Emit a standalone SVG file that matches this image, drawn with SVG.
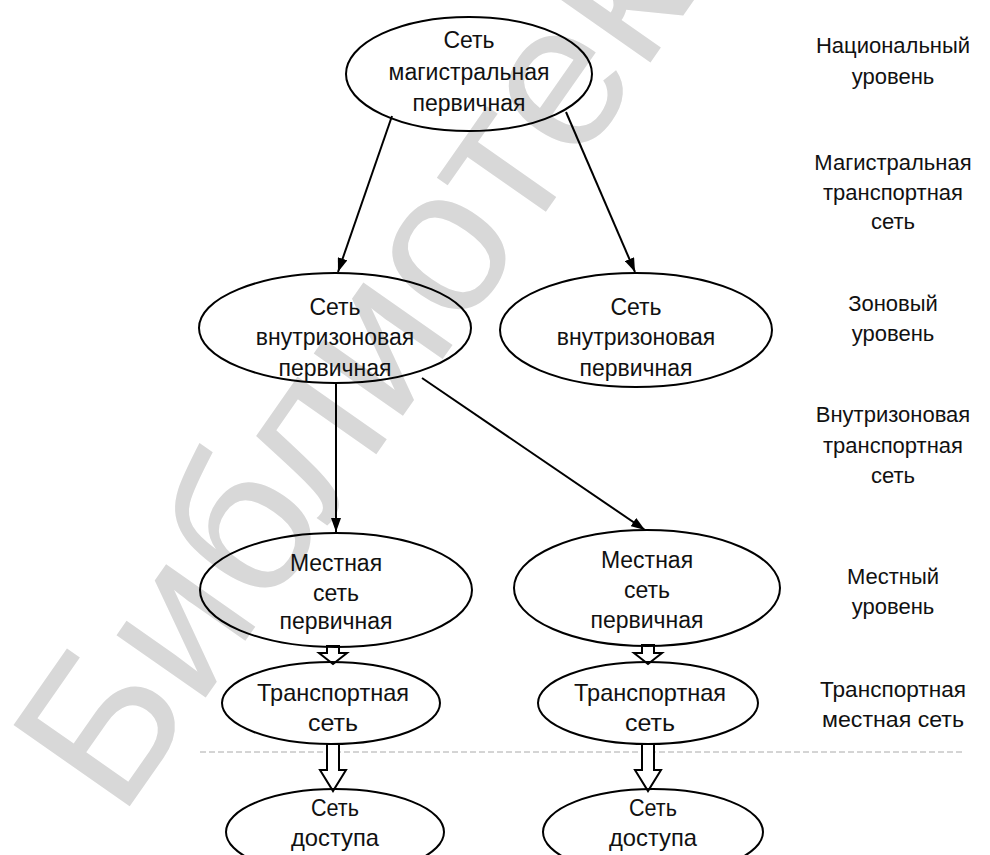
<svg xmlns="http://www.w3.org/2000/svg" width="990" height="855" viewBox="0 0 990 855">
  <defs>
    <marker id="arrow" viewBox="0 0 14 10" refX="14" refY="5" markerWidth="14" markerHeight="10" markerUnits="userSpaceOnUse" orient="auto">
      <path d="M0,0 L14,5 L0,10 Z" fill="#000"/>
    </marker>
    <style>
      .node ellipse { fill: none; stroke: #000; stroke-width: 2; }
      .txt { font-family: "Liberation Sans", Arial, sans-serif; font-size: 23px; fill: #111; text-anchor: middle; }
      .tall { font-size: 24px; }
      .link { stroke: #000; stroke-width: 2; fill: none; marker-end: url(#arrow); }
      .hollow { fill: #fff; stroke: #000; stroke-width: 2; stroke-linejoin: miter; }
      .level { font-family: "Liberation Sans", Arial, sans-serif; font-size: 22px; fill: #111; text-anchor: middle; }
      .wm { font-family: "Liberation Sans", Arial, sans-serif; font-size: 206px; fill: #d8d8d8; }
    </style>
  </defs>

  <rect width="990" height="855" fill="#fff"/>

  <!-- library stamp across the page -->
  <text class="wm" transform="translate(120,820) rotate(-55)">Библиотека</text>

  <!-- separator between transport and access segments -->
  <line x1="200" y1="752" x2="963" y2="752" stroke="#aaa" stroke-width="1" stroke-dasharray="6 3"/>

  <g id="connectors">
    <line class="link" x1="392" y1="116" x2="338" y2="272"/>
    <line class="link" x1="566" y1="112" x2="635" y2="272"/>
    <line class="link" x1="336" y1="383" x2="336" y2="532"/>
    <line class="link" x1="422" y1="378" x2="645" y2="530"/>
    <!-- block arrows -->
    <path class="hollow" d="M327,646 L339,646 L339,653 L347,653 L333,664 L319,653 L327,653 Z"/>
    <path class="hollow" d="M642,645 L654,645 L654,653 L662,653 L648,664 L634,653 L642,653 Z"/>
    <path class="hollow" d="M327,744 L339,744 L339,770 L346,770 L333,791 L320,770 L327,770 Z"/>
    <path class="hollow" d="M642,744 L654,744 L654,770 L661,770 L648,791 L635,770 L642,770 Z"/>
  </g>

  <g id="national" class="node">
    <ellipse cx="469" cy="74" rx="123" ry="57"/>
    <text class="txt" x="469" y="48">Сеть</text>
    <text class="txt" x="469" y="80">магистральная</text>
    <text class="txt" x="469" y="111">первичная</text>
  </g>

  <g id="zone-left" class="node">
    <ellipse cx="335" cy="328" rx="136" ry="55"/>
    <text class="txt" x="335" y="315">Сеть</text>
    <text class="txt" x="335" y="345">внутризоновая</text>
    <text class="txt" x="335" y="376">первичная</text>
  </g>

  <g id="zone-right" class="node">
    <ellipse cx="636" cy="330" rx="136" ry="57"/>
    <text class="txt" x="636" y="315">Сеть</text>
    <text class="txt" x="636" y="345">внутризоновая</text>
    <text class="txt" x="636" y="376">первичная</text>
  </g>

  <g id="local-left" class="node">
    <ellipse cx="336" cy="590" rx="136" ry="57"/>
    <text class="txt" x="336" y="571">Местная</text>
    <text class="txt" x="336" y="601">сеть</text>
    <text class="txt" x="336" y="629">первичная</text>
  </g>

  <g id="local-right" class="node">
    <ellipse cx="647" cy="588" rx="133" ry="58"/>
    <text class="txt" x="647" y="568">Местная</text>
    <text class="txt" x="647" y="598">сеть</text>
    <text class="txt" x="647" y="628">первичная</text>
  </g>

  <g id="transport-left" class="node">
    <ellipse cx="331" cy="703" rx="109" ry="41"/>
    <text class="txt tall" x="333" y="701" textLength="152" lengthAdjust="spacingAndGlyphs">Транспортная</text>
    <text class="txt tall" x="333" y="731" textLength="50" lengthAdjust="spacingAndGlyphs">сеть</text>
  </g>

  <g id="transport-right" class="node">
    <ellipse cx="648" cy="703" rx="110" ry="41"/>
    <text class="txt tall" x="650" y="701" textLength="152" lengthAdjust="spacingAndGlyphs">Транспортная</text>
    <text class="txt tall" x="650" y="731" textLength="50" lengthAdjust="spacingAndGlyphs">сеть</text>
  </g>

  <g id="access-left" class="node">
    <ellipse cx="335" cy="832" rx="109" ry="43"/>
    <text class="txt tall" x="335" y="816" textLength="48" lengthAdjust="spacingAndGlyphs">Сеть</text>
    <text class="txt tall" x="335" y="846" textLength="88" lengthAdjust="spacingAndGlyphs">доступа</text>
  </g>

  <g id="access-right" class="node">
    <ellipse cx="653" cy="832" rx="110" ry="43"/>
    <text class="txt tall" x="653" y="816" textLength="48" lengthAdjust="spacingAndGlyphs">Сеть</text>
    <text class="txt tall" x="653" y="846" textLength="88" lengthAdjust="spacingAndGlyphs">доступа</text>
  </g>

  <g id="levels">
    <text class="level" x="893" y="53">Национальный</text>
    <text class="level" x="893" y="84">уровень</text>
    <text class="level" x="893" y="170">Магистральная</text>
    <text class="level" x="893" y="200">транспортная</text>
    <text class="level" x="893" y="229">сеть</text>
    <text class="level" x="893" y="311">Зоновый</text>
    <text class="level" x="893" y="341">уровень</text>
    <text class="level" x="893" y="422">Внутризоновая</text>
    <text class="level" x="893" y="453">транспортная</text>
    <text class="level" x="893" y="483">сеть</text>
    <text class="level" x="893" y="584">Местный</text>
    <text class="level" x="893" y="614">уровень</text>
    <text class="level tall" x="893" y="697" textLength="146" lengthAdjust="spacingAndGlyphs">Транспортная</text>
    <text class="level tall" x="893" y="727" textLength="142" lengthAdjust="spacingAndGlyphs">местная сеть</text>
  </g>
</svg>
